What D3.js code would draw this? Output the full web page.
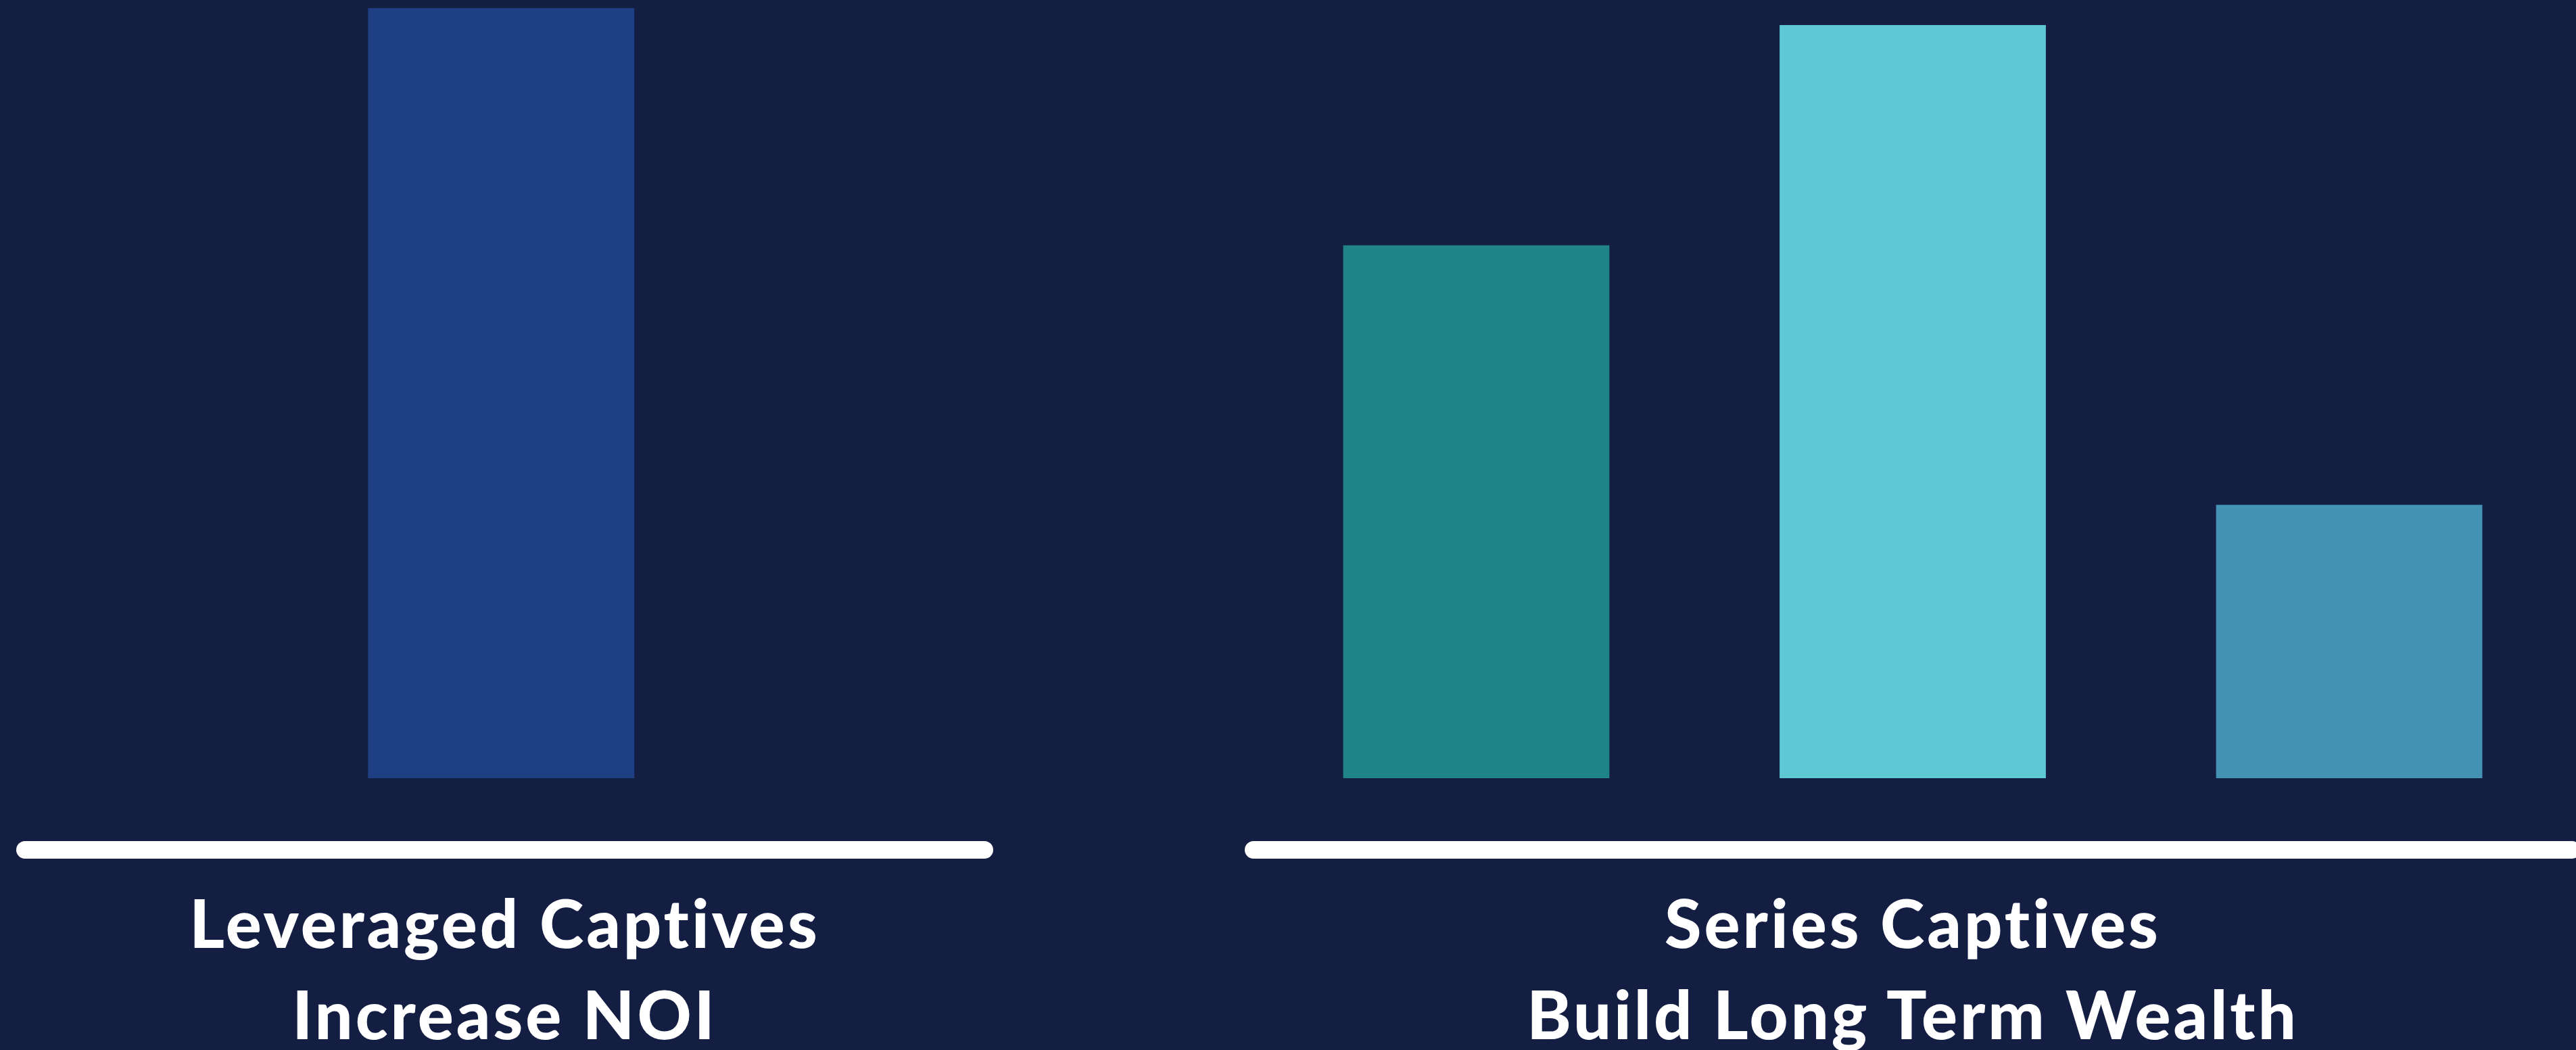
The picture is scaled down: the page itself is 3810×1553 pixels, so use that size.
<!DOCTYPE html>
<html>
<head>
<meta charset="utf-8">
<script src="https://cdn.jsdelivr.net/npm/d3@7"></script>
<style>
  body { margin: 0; background: #141e42; overflow: hidden; }
  text { font-family: Lato, "Open Sans", sans-serif; font-weight: 900; fill: #fff; font-variant-ligatures: none; }
</style>
</head>
<body>
<div id="chart-area"></div>
<script>
// groups and their bars
const groups = ["Leveraged Captives", "Series Captives"];
const groupLabels = [["Leveraged Captives", "Increase NOI"], ["Series Captives", "Build Long Term Wealth"]];
const leveragedBars = ["a"];
const leveragedValues = [100];
const seriesBars = ["a", "b", "c"];
const seriesValues = [69.2, 97.8, 35.5];
const leveragedColors = ["#1e3f84"];
const seriesColors = ["#21838a", "#5ec8d4", "#4593b4"];

let width = 3810, height = 1553;

let svg = d3.select("#chart-area")
  .append("svg")
  .attr("width", width)
  .attr("height", height);

svg.append("rect").attr("width", width).attr("height", height).attr("fill", "#141e42");

let baseline = 1151;
let y = d3.scaleLinear().domain([0, 100]).range([baseline, 12]);

// each group has its own band scale along its underline
let panels = [
  {name: groups[0], bars: leveragedBars, values: leveragedValues, colors: leveragedColors,
   x: d3.scaleBand().domain(leveragedBars).range([24, 1469]).paddingInner(0.39).paddingOuter(0.814).align(0.495)},
  {name: groups[1], bars: seriesBars, values: seriesValues, colors: seriesColors,
   x: d3.scaleBand().domain(seriesBars).range([1841, 3817]).paddingInner(0.39).paddingOuter(0.2255)}
];

panels.forEach(function(p, i) {
  let g = svg.append("g").attr("class", "panel");

  g.selectAll("rect.bar")
    .data(p.values)
    .enter()
    .append("rect")
    .attr("class", "bar")
    .attr("x", function(d, j) { return p.x(p.bars[j]); })
    .attr("y", function(d) { return y(d); })
    .attr("width", p.x.bandwidth())
    .attr("height", function(d) { return baseline - y(d); })
    .attr("fill", function(d, j) { return p.colors[j]; });

  let r = p.x.range();
  g.append("line")
    .attr("x1", r[0] + 13).attr("x2", r[1] - 13)
    .attr("y1", 1257).attr("y2", 1257)
    .attr("stroke", "#fff")
    .attr("stroke-width", 26)
    .attr("stroke-linecap", "round");

  let cx = (r[0] + r[1]) / 2;
  g.selectAll("text.label")
    .data(groupLabels[i])
    .enter()
    .append("text")
    .attr("class", "label")
    .attr("x", cx)
    .attr("y", function(d, k) { return 1402 + k * 135; })
    .attr("text-anchor", "middle")
    .style("font-size", "99px")
    .style("letter-spacing", "4px")
    .text(function(d) { return d; });
});
</script>
</body>
</html>
